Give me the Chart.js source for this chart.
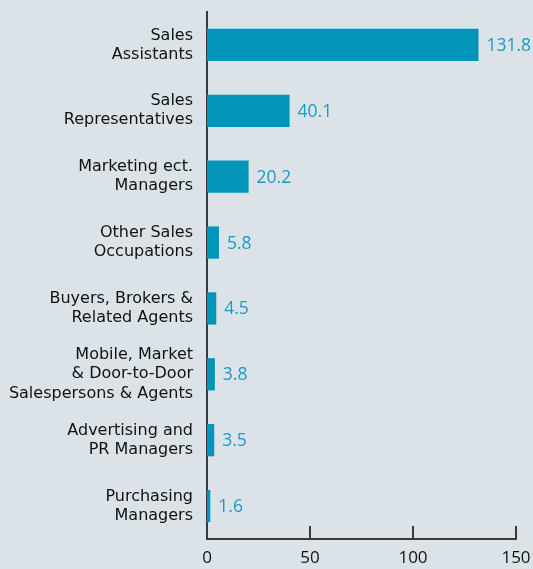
<!DOCTYPE html>
<html>
<head>
<meta charset="utf-8">
<script src="https://cdn.jsdelivr.net/npm/chart.js@4/dist/chart.umd.min.js"></script>
<style>
  html, body { margin: 0; padding: 0; background: #dbe3e8; }
  #wrap { width: 533px; height: 569px; position: relative; }
</style>
</head>
<body>
<div id="wrap"><canvas id="salesJobsChart"></canvas></div>
<script>
// occupations, top to bottom
const occupations = [
    ['Sales', 'Assistants'],
    ['Sales', 'Representatives'],
    ['Marketing ect.', 'Managers'],
    ['Other Sales', 'Occupations'],
    ['Buyers, Brokers &', 'Related Agents'],
    ['Mobile, Market', '& Door-to-Door', 'Salespersons & Agents'],
    ['Advertising and', 'PR Managers'],
    ['Purchasing', 'Managers']
];
const employment = [131.8, 40.1, 20.2, 5.8, 4.5, 3.8, 3.5, 1.6];
const xTicks = [0, 50, 100, 150];

const LABEL_FONT = "'DejaVu Sans', sans-serif";
const NUM_FONT = "'Open Sans', 'Noto Sans', sans-serif";
const AXIS = '#3a3a3a';
const BAR = '#0095b9';
const VALUE = '#1a9ac4';

// short ticks pointing up from the x axis
const upTicks = {
    id: 'upTicks',
    afterDraw(chart) {
        const x = chart.scales.x;
        const c = chart.ctx;
        const y0 = chart.chartArea.bottom;
        c.save();
        c.strokeStyle = AXIS;
        c.lineWidth = 2;
        xTicks.forEach(v => {
            const px = Math.round(x.getPixelForValue(v));
            c.beginPath();
            c.moveTo(px, y0);
            c.lineTo(px, y0 - 13);
            c.stroke();
        });
        c.restore();
    }
};

// value written just past the end of each bar
const barValues = {
    id: 'barValues',
    afterDatasetsDraw(chart) {
        const c = chart.ctx;
        const meta = chart.getDatasetMeta(0);
        c.save();
        c.fillStyle = VALUE;
        c.font = '17.5px ' + NUM_FONT;
        c.textBaseline = 'middle';
        c.textAlign = 'left';
        meta.data.forEach((bar, i) => {
            c.fillText(String(employment[i]), bar.x + 8, bar.y + 1);
        });
        c.restore();
    }
};

new Chart(document.getElementById('salesJobsChart'), {
    type: 'bar',
    data: {
        labels: occupations,
        datasets: [{
            data: employment,
            backgroundColor: BAR,
            borderWidth: 0,
            categoryPercentage: 1,
            barPercentage: 0.49
        }]
    },
    options: {
        indexAxis: 'y',
        responsive: true,
        maintainAspectRatio: false,
        animation: false,
        layout: { padding: { top: 12, right: 17, bottom: 0, left: 0 } },
        plugins: {
            legend: { display: false },
            tooltip: { enabled: false }
        },
        scales: {
            x: {
                min: 0,
                max: 150,
                afterBuildTicks(scale) {
                    scale.ticks = xTicks.map(v => ({ value: v }));
                },
                afterFit(scale) {
                    scale.height = 30;
                    scale.paddingLeft = 0;
                    scale.paddingRight = 0;
                },
                grid: { display: false, drawTicks: false },
                border: { display: true, color: AXIS, width: 2 },
                ticks: {
                    color: '#111',
                    padding: 9,
                    maxRotation: 0,
                    font: { family: NUM_FONT, size: 17 }
                }
            },
            y: {
                afterFit(scale) {
                    scale.width = 207;
                    scale.paddingTop = 0;
                    scale.paddingBottom = 0;
                },
                grid: { display: false, drawTicks: false },
                border: { display: true, color: AXIS, width: 2 },
                ticks: {
                    color: '#111',
                    padding: 14,
                    font: { family: LABEL_FONT, size: 16, lineHeight: 1.19 }
                }
            }
        }
    },
    plugins: [upTicks, barValues]
});
</script>
</body>
</html>
